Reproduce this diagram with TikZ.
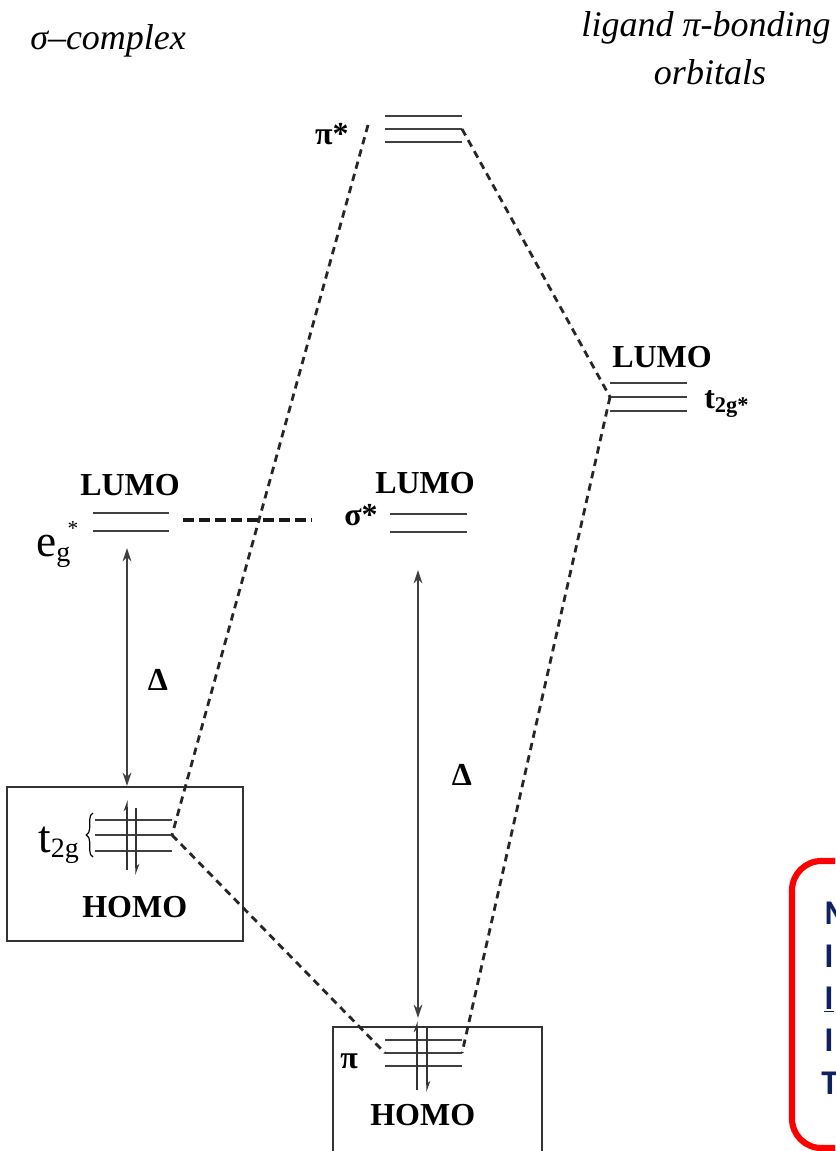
\documentclass[tikz,border=0pt]{standalone}
\usepackage{fontspec}
\setmainfont{Liberation Serif}
\newfontfamily\calib{Carlito}
\usetikzlibrary{arrows.meta,decorations.pathreplacing}
\definecolor{navy}{HTML}{0F2160}
\begin{document}
\begin{tikzpicture}[x=0.75pt,y=-0.75pt,
  lvl/.style={line width=1.1pt,draw=black!75},
  conn/.style={line width=2.1pt,dash pattern=on 5.5pt off 4pt,draw=black!85},
  thickconn/.style={line width=3.4pt,dash pattern=on 8pt off 4pt,draw=black!90},
  gap/.style={line width=1.1pt,draw=black!75,{Stealth[length=10pt,width=6.5pt]}-{Stealth[length=10pt,width=6.5pt]}},
  eup/.style={line width=1pt,draw=black!80,-{Stealth[length=7pt,width=5pt,harpoon]}},
  boxline/.style={line width=1.1pt,draw=black!80},
  blab/.style={inner sep=0pt,font=\fontsize{24}{28}\selectfont\bfseries},
  rlab/.style={inner sep=0pt,font=\fontsize{34}{38}\selectfont},
  ilab/.style={inner sep=0pt,font=\fontsize{27}{32}\selectfont\itshape},
  nlab/.style={inner sep=0pt,text=navy,font=\fontsize{26}{30}\selectfont\calib\bfseries}]
\useasboundingbox (0,0) rectangle (835,1151);
\clip (0,0) rectangle (835,1151);

% titles
\node[ilab,anchor=base west] (tsig) at (30,50) {σ–complex};
\node[ilab,anchor=base] (tlig1) at (706,37) {ligand π-bonding};
\node[ilab,anchor=base] (tlig2) at (710,85) {orbitals};

% pi* levels
\coordinate (ps1l) at (385,116); \coordinate (ps1r) at (462,116);
\coordinate (ps2l) at (385,129); \coordinate (ps2r) at (462,129);
\coordinate (ps3l) at (385,142); \coordinate (ps3r) at (462,142);
\draw[lvl] (ps1l) -- (ps1r); \draw[lvl] (ps2l) -- (ps2r); \draw[lvl] (ps3l) -- (ps3r);
\node[blab,anchor=base east] (lpistar) at (349,145) {π*};
\coordinate (psdash) at (368,125);

% t2g* levels
\coordinate (ts1l) at (610,383); \coordinate (ts1r) at (687,383);
\coordinate (ts2l) at (610,397); \coordinate (ts2r) at (687,397);
\coordinate (ts3l) at (610,411); \coordinate (ts3r) at (687,411);
\draw[lvl] (ts1l) -- (ts1r); \draw[lvl] (ts2l) -- (ts2r); \draw[lvl] (ts3l) -- (ts3r);
\node[blab,anchor=base west] (llumoR) at (612,368) {LUMO};
\node[blab,anchor=base west] (lt2gs) at (704,408) {t\textsubscript{2g*}};

% eg* levels
\coordinate (eg1l) at (93,513); \coordinate (eg1r) at (169,513);
\coordinate (eg2l) at (93,531); \coordinate (eg2r) at (169,531);
\draw[lvl] (eg1l) -- (eg1r); \draw[lvl] (eg2l) -- (eg2r);
\node[blab,anchor=base west] (llumoL) at (80,495) {LUMO};
\node[rlab,anchor=base west] (leg) at (36,556) {e\raisebox{-4pt}{\fontsize{21}{21}\selectfont g}};
\node[inner sep=0pt,font=\fontsize{16}{16}\selectfont] (legs) at (73,529) {*};

% sigma* levels
\coordinate (ss1l) at (390,514); \coordinate (ss1r) at (467,514);
\coordinate (ss2l) at (390,532); \coordinate (ss2r) at (467,532);
\draw[lvl] (ss1l) -- (ss1r); \draw[lvl] (ss2l) -- (ss2r);
\node[blab,anchor=base east] (lsigstar) at (378,525) {σ*};
\node[blab,anchor=base west] (llumoM) at (375,493) {LUMO};

% thick dashed eg*-sigma*
\coordinate (tdl) at (183,520); \coordinate (tdr) at (312,520);
\draw[thickconn] (tdl) -- (tdr);

% t2g box and levels
\draw[boxline] (7,787) rectangle (243,941);
\coordinate (t1l) at (95,820); \coordinate (t1r) at (172,820);
\coordinate (t2l) at (95,835); \coordinate (t2r) at (172,835);
\coordinate (t3l) at (95,851); \coordinate (t3r) at (172,851);
\draw[lvl] (t1l) -- (t1r); \draw[lvl] (t2l) -- (t2r); \draw[lvl] (t3l) -- (t3r);
\draw[line width=0.9pt,decorate,decoration={brace,amplitude=5pt}] (93,857) -- (93,813);
\node[rlab,anchor=base west] (lt2g) at (38,852) {t\raisebox{-4pt}{\fontsize{21}{21}\selectfont 2g}};
\coordinate (tu0) at (127,870); \coordinate (tu1) at (127,800);
\coordinate (td0) at (136,808); \coordinate (td1) at (136,875);
\draw[eup] (tu0) -- (tu1); \draw[eup] (td0) -- (td1);
\node[blab,anchor=base west] (lhomoL) at (82,917) {HOMO};

% pi box and levels
\draw[boxline] (333,1160) -- (333,1027) -- (542,1027) -- (542,1160);
\coordinate (p1l) at (385,1040); \coordinate (p1r) at (462,1040);
\coordinate (p2l) at (385,1053); \coordinate (p2r) at (462,1053);
\coordinate (p3l) at (385,1066); \coordinate (p3r) at (462,1066);
\draw[lvl] (p1l) -- (p1r); \draw[lvl] (p2l) -- (p2r); \draw[lvl] (p3l) -- (p3r);
\node[blab,anchor=base west] (lpi) at (340,1068) {π};
\coordinate (pu0) at (417,1090); \coordinate (pu1) at (417,1021);
\coordinate (pd0) at (427,1027); \coordinate (pd1) at (427,1092);
\draw[eup] (pu0) -- (pu1); \draw[eup] (pd0) -- (pd1);
\node[blab,anchor=base west] (lhomoB) at (370,1125) {HOMO};

% gap arrows
\coordinate (ga0) at (127,548); \coordinate (ga1) at (127,786);
\draw[gap] (ga0) -- (ga1);
\node[blab,anchor=base] (ldL) at (158,690) {Δ};
\coordinate (gb0) at (418,570); \coordinate (gb1) at (418,1018);
\draw[gap] (gb0) -- (gb1);
\node[blab,anchor=base] (ldR) at (462,785) {Δ};

% dashed correlation lines
\draw[conn] (psdash) -- (t2r);
\draw[conn] (ps2r) -- (ts2l);
\draw[conn] (ts2l) -- (p2r);
\draw[conn] (t2r) -- (p2l);

% red note box (cut off at the picture's edge)
\draw[red,line width=4.6pt,rounded corners=22pt] (792,861) rectangle (960,1148);
\node[nlab,anchor=base west] (n1) at (824,924) {M};
\node[nlab,anchor=base west] (n2) at (824,967) {I};
\node[nlab,anchor=base west] (n3) at (824,1009) {\underline{I}};
\node[nlab,anchor=base west] (n4) at (824,1051) {I};
\node[nlab,anchor=base west] (n5) at (821,1094) {T};
\end{tikzpicture}
\end{document}
